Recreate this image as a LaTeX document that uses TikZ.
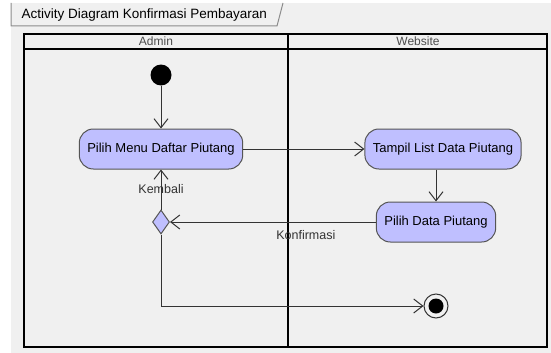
\documentclass[tikz,border=0pt]{standalone}
\usepackage{fontspec}
\setmainfont{Liberation Sans}
\usetikzlibrary{arrows.meta,shapes.geometric}
\definecolor{bgGray}{HTML}{F0F0F0}
\definecolor{actFill}{HTML}{BFBFFF}
\definecolor{actLine}{HTML}{555555}

\begin{document}
\begin{tikzpicture}[x=1pt,y=-1pt,
    activity/.style={draw=actLine,line width=1pt,fill=actFill,rounded corners=14pt,
      minimum height=40pt,inner xsep=8pt,font=\fontsize{13}{15}\selectfont},
    flow/.style={draw=black!80,line width=1pt,-{Straight Barb[length=9pt,width=14pt]}},
    lane/.style={line width=1.8pt},
    laneHead/.style={text=black!70,font=\fontsize{12}{14}\selectfont},
    flowLabel/.style={text=black!80,font=\fontsize{12.5}{14}\selectfont}]
\useasboundingbox (0,0) rectangle (551,353);
\fill[bgGray] (11,3) rectangle (551,353);
\draw[black!45,line width=1pt] (11,3) -- (11,26) -- (277,26) -- (283,3);
\node[anchor=west,font=\fontsize{13.5}{15}\selectfont] (title) at (18,15) {Activity Diagram Konfirmasi Pembayaran};

\draw[lane] (24,34) rectangle (547,347);
\draw[lane] (24,49) -- (547,49);
\draw[lane] (288,34) -- (288,347);
\node[laneHead] (adminHead) at (156,41.5) {Admin};
\node[laneHead] (webHead) at (418,41.5) {Website};

\node[circle,fill=black,minimum size=21pt,inner sep=0pt] (start) at (161,75) {};
\node[activity] (menu) at (161,149) {Pilih Menu Daftar Piutang};
\node[activity] (tampil) at (443,149) {Tampil List Data Piutang};
\node[activity] (pilihData) at (436,222) {Pilih Data Piutang};
\node[diamond,draw=actLine,line width=1pt,fill=actFill,minimum width=17pt,minimum height=24pt,inner sep=0pt] (merge) at (161,222) {};
\node[circle,draw=black!80,line width=1pt,minimum size=24pt,inner sep=0pt] (end) at (436,306) {};
\node[circle,fill=black,minimum size=15pt,inner sep=0pt] (endDot) at (end) {};

\draw[flow] (start) -- (menu);
\draw[flow] (menu) -- (tampil);
\draw[flow] (tampil.south -| pilihData) -- (pilihData);
\draw[flow] (pilihData) -- node[flowLabel,pos=0.34,below=5pt] (konfLabel) {Konfirmasi} (merge);
\draw[flow] (merge) -- node[flowLabel] (kembaliLabel) {Kembali} (menu);
\draw[flow] (merge) |- (end);
\end{tikzpicture}
\end{document}
